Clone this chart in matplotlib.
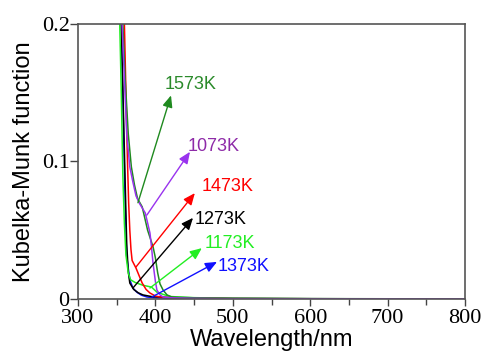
import matplotlib
matplotlib.use("Agg")
import matplotlib.pyplot as plt
from matplotlib.ticker import MultipleLocator

# ---- data ----
wl_1173 = [340, 350, 354, 356, 358, 360, 362, 365, 368, 374, 384, 395, 402, 412, 420, 450, 500, 600, 800]
km_1173 = [0.6, 0.35, 0.2, 0.15, 0.09, 0.055, 0.032, 0.019, 0.014, 0.012, 0.010, 0.0087, 0.005, 0.003, 0.0018, 0.001, 0.0005, 0.0002, 0.0]

wl_1373 = [340, 350, 356, 359, 361, 363, 367, 371, 376, 382, 389, 400, 450, 800]
km_1373 = [0.6, 0.33, 0.2, 0.12, 0.07, 0.031, 0.014, 0.008, 0.005, 0.0028, 0.0015, 0.0008, 0.0003, 0.0]

wl_1273 = [340, 350, 356, 359, 361, 363, 365, 367, 372, 378, 384, 395, 420, 500, 800]
km_1273 = [0.6, 0.33, 0.2, 0.13, 0.085, 0.04, 0.02, 0.0116, 0.007, 0.0045, 0.003, 0.0018, 0.001, 0.0004, 0.0]

wl_1473 = [340, 350, 356, 360, 362, 364, 365.5, 367, 368.5, 370, 375, 379, 383, 388, 393, 400, 406, 420, 450, 500, 800]
km_1473 = [0.7, 0.4, 0.24, 0.2, 0.15, 0.1, 0.07, 0.05, 0.036, 0.028, 0.0225, 0.017, 0.0116, 0.007, 0.0044, 0.0022, 0.0015, 0.001, 0.0006, 0.0003, 0.0]

wl_1573 = [340, 350, 358, 361, 365, 369, 373, 377, 383, 390, 397, 400, 403, 406, 410, 415, 421, 430, 450, 500, 600, 700, 800]
km_1573 = [0.7, 0.4, 0.2, 0.16, 0.12, 0.096, 0.083, 0.073, 0.067, 0.05, 0.038, 0.03, 0.019, 0.011, 0.0065, 0.003, 0.0015, 0.0012, 0.0009, 0.0005, 0.0003, 0.0002, 0.0001]

wl_1073 = [340, 350, 357, 360, 363, 367, 371, 375, 380, 387, 393, 395, 397, 400, 402, 406, 410, 420, 450, 500, 600, 800]
km_1073 = [0.7, 0.4, 0.2, 0.16, 0.12, 0.096, 0.085, 0.075, 0.069, 0.0625, 0.048, 0.038, 0.026, 0.013, 0.0065, 0.003, 0.0015, 0.0009, 0.0005, 0.0003, 0.0002, 0.0001]

labels = ["1573K", "1073K", "1473K", "1273K", "1173K", "1373K"]
# arrow start (on curve), arrow end, text position (left, center)
arrow_start = [(377.5, 0.070), (389, 0.061), (375, 0.0233), (371, 0.008), (393, 0.008), (395.6, 0.0015)]
arrow_end = [(420.2, 0.148), (444.7, 0.107), (451, 0.077), (448.6, 0.059), (460, 0.037), (479.6, 0.027)]
text_pos = [(412.4, 0.1556), (442, 0.111), (460, 0.0815), (451, 0.0575), (463, 0.0407), (481, 0.024)]

xticks = [300, 400, 500, 600, 700, 800]
yticks = [0, 0.1, 0.2]
ytick_labels = ["0", "0.1", "0.2"]

c_1573 = "#1f8a1f"
c_1073 = "#9933ee"
c_1473 = "#ff0000"
c_1273 = "#000000"
c_1173 = "#22ee22"
c_1373 = "#1010ff"
text_colors = ["#2a8a2a", "#8e2ba8", "#ff0000", "#000000", "#22ee22", "#1010ff"]
arrow_colors = [c_1573, c_1073, c_1473, c_1273, c_1173, c_1373]

fig = plt.figure(figsize=(4.84, 3.56), dpi=100)
ax = fig.add_axes([0.161, 0.160, 0.800, 0.773])

lw = 1.1
ax.plot(wl_1373, km_1373, color=c_1373, lw=lw)
ax.plot(wl_1273, km_1273, color=c_1273, lw=lw)
ax.plot(wl_1173, km_1173, color=c_1173, lw=lw)
ax.plot(wl_1473, km_1473, color=c_1473, lw=lw)
ax.plot(wl_1573, km_1573, color=c_1573, lw=lw)
ax.plot(wl_1073, km_1073, color=c_1073, lw=lw)

for lab, s, e, t, tc, ac in zip(labels, arrow_start, arrow_end, text_pos, text_colors, arrow_colors):
    ax.annotate("", xy=e, xytext=s,
                arrowprops=dict(arrowstyle="-|>,head_length=0.7,head_width=0.3", color=ac, lw=1.0,
                                shrinkA=0, shrinkB=0))
    ax.text(t[0], t[1], lab, color=tc, fontsize=13, family="Liberation Sans",
            ha="left", va="center")

ax.set_xlim(300, 800)
ax.set_ylim(0, 0.2)
ax.set_xticks(xticks)
ax.xaxis.set_minor_locator(MultipleLocator(50))
ax.set_yticks(yticks)
ax.set_yticklabels(ytick_labels)
for lab in ax.get_xticklabels() + ax.get_yticklabels():
    lab.set_family("Liberation Serif")
    lab.set_fontsize(16)
ax.tick_params(axis="y", which="major", direction="out", length=6, width=1, color="#444444", pad=0)
ax.tick_params(axis="x", which="major", direction="out", length=5, width=1, color="#444444", pad=2)
ax.tick_params(axis="x", which="minor", direction="out", length=4, width=1, color="#444444")
for sp in ax.spines.values():
    sp.set_color("#555555")
    sp.set_linewidth(1.2)

ax.set_xlabel("Wavelength/nm", fontsize=17, family="Liberation Sans", labelpad=1)
ax.set_ylabel("Kubelka-Munk function", fontsize=17, family="Liberation Sans", labelpad=5)

fig.savefig("out.png", dpi=100)
